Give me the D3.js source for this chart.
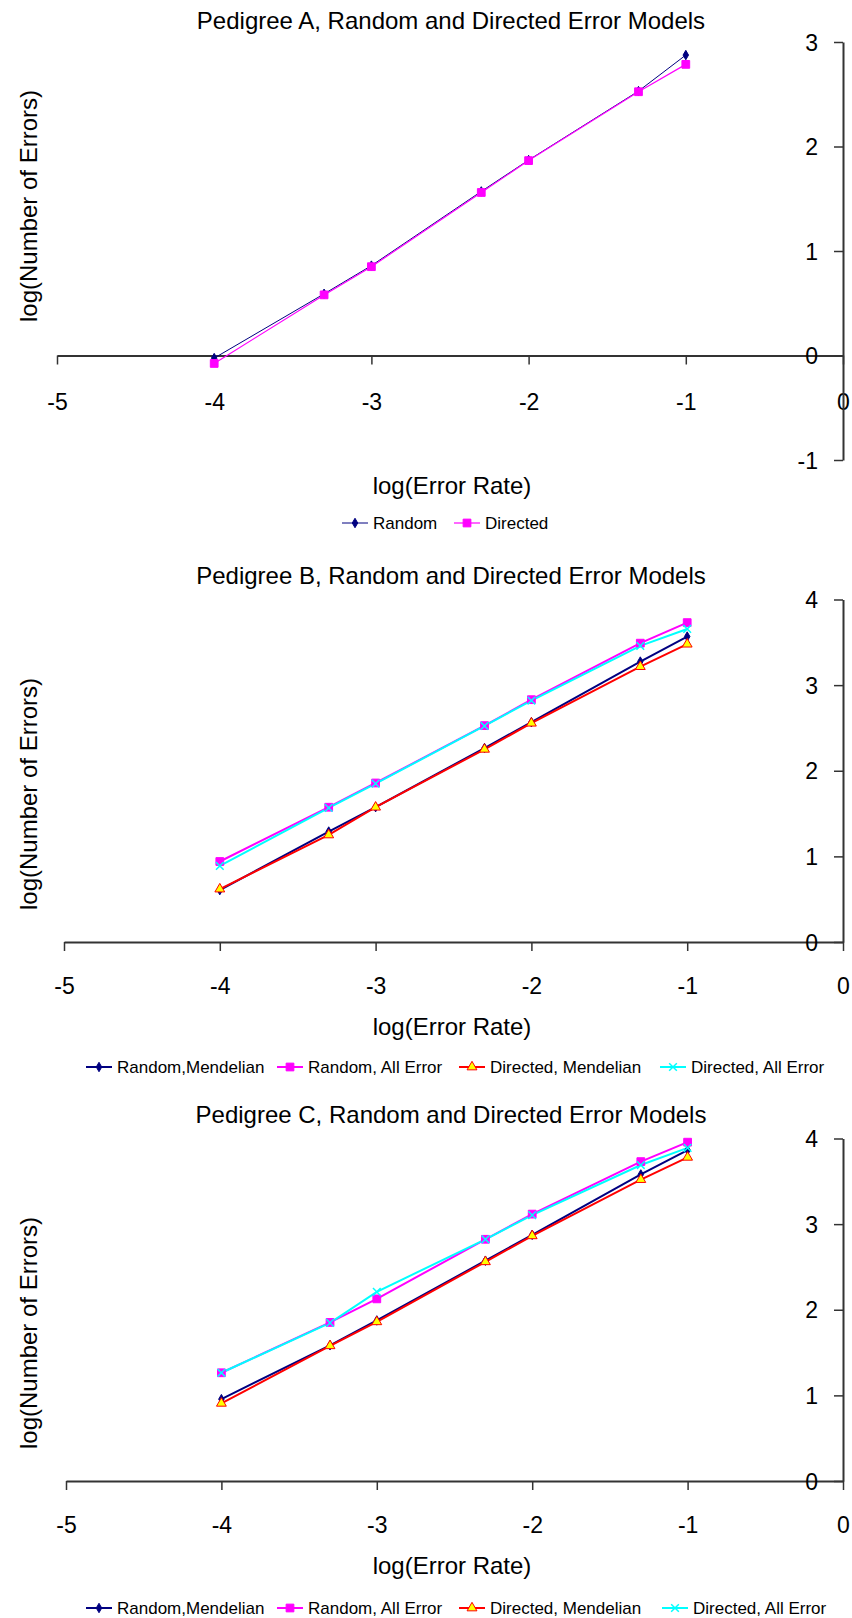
<!DOCTYPE html>
<html>
<head>
<meta charset="utf-8">
<script src="https://cdn.jsdelivr.net/npm/d3@7"></script>
<style>
  body { margin: 0; background: #fff; }
  svg { display: block; }
  text { font-family: "Liberation Sans", Arial, sans-serif; fill: #000; }
</style>
</head>
<body>
<div id="chart"></div>
<script>
// x values are log10 of the error rates 0.0001 ... 0.1
const xValues = [-4, -3.301, -3, -2.301, -2, -1.301, -1];
const xTicks = [-5, -4, -3, -2, -1, 0];
const yTicksA = [-1, 0, 1, 2, 3];
const yTicksBC = [0, 1, 2, 3, 4];

// Pedigree A
const aLabels = ["Random", "Directed"];
const aRandom = [-0.025, 0.59, 0.86, 1.57, 1.87, 2.53, 2.875];
const aDirected = [-0.076, 0.58, 0.85, 1.56, 1.865, 2.524, 2.786];

// Pedigree B
const bcLabels = ["Random,Mendelian", "Random, All Error", "Directed, Mendelian", "Directed, All Error"];
const bRandomMend = [0.606, 1.29, 1.575, 2.265, 2.567, 3.275, 3.567];
const bRandomAll = [0.94, 1.574, 1.857, 2.527, 2.83, 3.49, 3.73];
const bDirectedMend = [0.618, 1.25, 1.574, 2.25, 2.555, 3.216, 3.478];
const bDirectedAll = [0.888, 1.566, 1.85, 2.523, 2.82, 3.458, 3.656];

// Pedigree C
const cRandomMend = [0.956, 1.585, 1.875, 2.573, 2.875, 3.58, 3.864];
const cRandomAll = [1.264, 1.852, 2.127, 2.823, 3.117, 3.73, 3.957];
const cDirectedMend = [0.907, 1.579, 1.859, 2.56, 2.863, 3.52, 3.78];
const cDirectedAll = [1.264, 1.847, 2.209, 2.823, 3.105, 3.69, 3.89];

// marker styles per series kind
const styles = {
    randMend: {color: "#000080", symbol: d3.symbolDiamond, size: 26, fill: "#000080", stroke: "#000080"},
    randAll: {color: "#FF00FF", symbol: d3.symbolSquare, size: 60, fill: "#FF00FF", stroke: "#FF00FF"},
    dirMend: {color: "#FF0000", symbol: d3.symbolTriangle, size: 42, fill: "#FFFF00", stroke: "#FF0000"},
    dirAll: {color: "#00FFFF", symbol: d3.symbolTimes || d3.symbolX, size: 40, fill: "none", stroke: "#00FFFF"}
};

const width = 852, height = 1618;
const svg = d3.select("#chart").append("svg")
    .attr("width", width)
    .attr("height", height);

const charts = [
    {
        title: "Pedigree A, Random and Directed Error Models",
        series: [
            {name: aLabels[0], values: aRandom, style: styles.randMend, lw: 1},
            {name: aLabels[1], values: aDirected, style: styles.randAll, lw: 1.2}
        ],
        xRange: [57, 843], yDomain: [-1, 3], yRange: [460, 42], yTicks: yTicksA,
        titleY: 21, tickLabelY: 402, xTitleY: 486, yTitleY: 206,
        legendY: 523, legendX: [342, 454]
    },
    {
        title: "Pedigree B, Random and Directed Error Models",
        series: [
            {name: bcLabels[0], values: bRandomMend, style: styles.randMend, lw: 2},
            {name: bcLabels[1], values: bRandomAll, style: styles.randAll, lw: 2},
            {name: bcLabels[2], values: bDirectedMend, style: styles.dirMend, lw: 2},
            {name: bcLabels[3], values: bDirectedAll, style: styles.dirAll, lw: 2}
        ],
        xRange: [64, 843], yDomain: [0, 4], yRange: [942, 599.5], yTicks: yTicksBC,
        titleY: 576, tickLabelY: 986, xTitleY: 1027, yTitleY: 794,
        legendY: 1067, legendX: [86, 277, 459, 660]
    },
    {
        title: "Pedigree C, Random and Directed Error Models",
        series: [
            {name: bcLabels[0], values: cRandomMend, style: styles.randMend, lw: 2},
            {name: bcLabels[1], values: cRandomAll, style: styles.randAll, lw: 2},
            {name: bcLabels[2], values: cDirectedMend, style: styles.dirMend, lw: 2},
            {name: bcLabels[3], values: cDirectedAll, style: styles.dirAll, lw: 2}
        ],
        xRange: [66, 843], yDomain: [0, 4], yRange: [1481, 1138.5], yTicks: yTicksBC,
        titleY: 1115, tickLabelY: 1525, xTitleY: 1566, yTitleY: 1333,
        legendY: 1608, legendX: [86, 277, 459, 662]
    }
];

function drawMarker(g, st, x, y) {
    g.append("path")
        .attr("transform", `translate(${x},${y})`)
        .attr("d", d3.symbol().type(st.symbol).size(st.size)())
        .attr("fill", st.fill)
        .attr("stroke", st.stroke)
        .attr("stroke-width", st.fill === "none" ? 1.5 : 1);
}

charts.forEach(c => {
    let g = svg.append("g");

    let x = d3.scaleLinear().domain([-5, 0]).range(c.xRange);
    let y = d3.scaleLinear().domain(c.yDomain).range(c.yRange);

    // title
    g.append("text")
        .attr("x", 451).attr("y", c.titleY).attr("dy", "0.35em")
        .attr("text-anchor", "middle")
        .style("font-size", "24px")
        .text(c.title);

    // x axis sits on y = 0
    let xAxis = g.append("g")
        .attr("transform", `translate(0,${y(0)})`)
        .call(d3.axisBottom(x).tickValues(xTicks).tickSize(9).tickSizeOuter(0).tickFormat(d => String(d)));
    xAxis.selectAll("text")
        .attr("y", c.tickLabelY - y(0)).attr("dy", "0.35em")
        .style("font-size", "23px").style("font-family", "'Liberation Sans', Arial, sans-serif");

    // y axis sits on x = 0
    let yAxis = g.append("g")
        .attr("transform", `translate(${x(0)},0)`)
        .call(d3.axisLeft(y).tickValues(c.yTicks).tickSize(9).tickSizeOuter(0).tickFormat(d => String(d)));
    yAxis.selectAll("text")
        .attr("x", -25).attr("dy", "0.35em")
        .style("font-size", "23px").style("font-family", "'Liberation Sans', Arial, sans-serif");

    g.selectAll(".domain").attr("stroke", "#333").attr("stroke-width", 2);
    g.selectAll(".tick line").attr("stroke", "#333").attr("stroke-width", 1.5);
    g.selectAll(".tick text").attr("fill", "#000");

    // axis titles
    g.append("text")
        .attr("x", 452).attr("y", c.xTitleY).attr("dy", "0.35em")
        .attr("text-anchor", "middle")
        .style("font-size", "24px")
        .text("log(Error Rate)");

    g.append("text")
        .attr("transform", `translate(29,${c.yTitleY}) rotate(-90)`)
        .attr("dy", "0.35em")
        .attr("text-anchor", "middle")
        .style("font-size", "24px")
        .text("log(Number of Errors)");

    // lines
    let line = d3.line()
        .x((d, i) => x(xValues[i]))
        .y(d => y(d));

    c.series.forEach(s => {
        g.append("path")
            .datum(s.values)
            .attr("d", line)
            .attr("fill", "none")
            .attr("stroke", s.style.color)
            .attr("stroke-width", s.lw);
    });

    c.series.forEach(s => {
        s.values.forEach((v, i) => drawMarker(g, s.style, x(xValues[i]), y(v)));
    });

    // legend
    c.series.forEach((s, i) => {
        let lx = c.legendX[i];
        let lg = g.append("g");
        lg.append("line")
            .attr("x1", lx).attr("x2", lx + 26)
            .attr("y1", c.legendY).attr("y2", c.legendY)
            .attr("stroke", s.style.color)
            .attr("stroke-width", s.lw);
        drawMarker(lg, s.style, lx + 13, c.legendY);
        lg.append("text")
            .attr("x", lx + 31).attr("y", c.legendY).attr("dy", "0.35em")
            .style("font-size", "17px")
            .text(s.name);
    });
});
</script>
</body>
</html>
